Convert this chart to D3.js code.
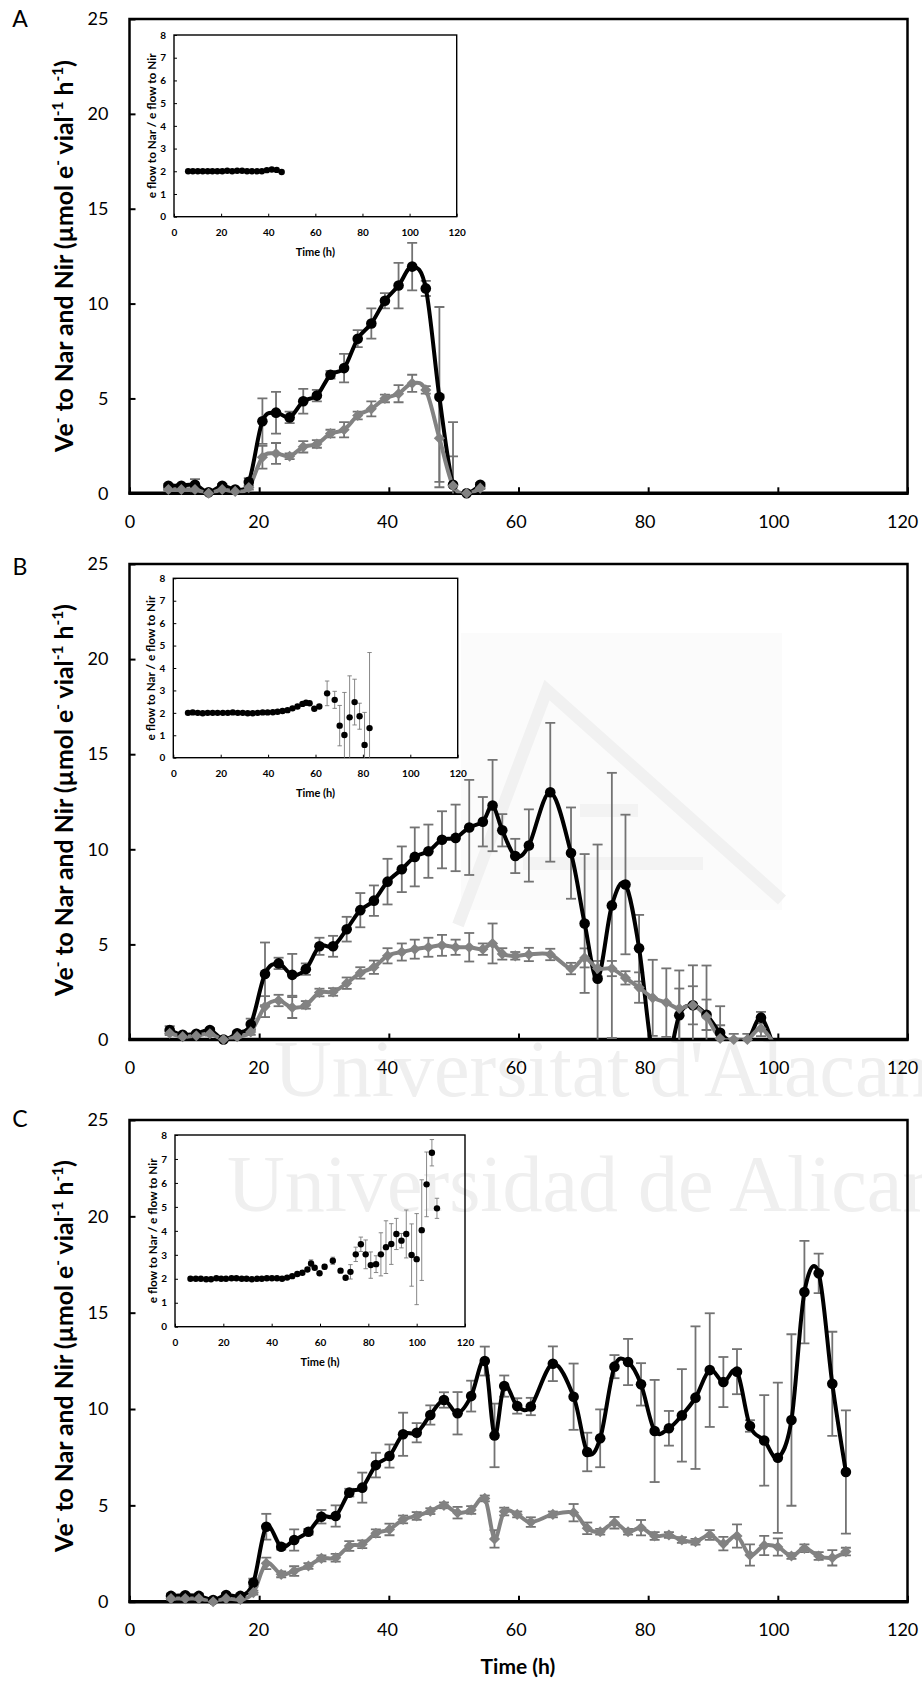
<!DOCTYPE html>
<html>
<head>
<meta charset="utf-8">
<script src="https://cdn.jsdelivr.net/npm/d3@7/dist/d3.min.js"></script>
<style>
  body { margin: 0; background: #fff; }
  svg { display: block; }
</style>
</head>
<body>
<svg id="chart" width="922" height="1682"></svg>
<script>
// ---------------- DATA ----------------
const xTicks = [0, 20, 40, 60, 80, 100, 120];
const yTicks = [0, 5, 10, 15, 20, 25];
const insetXTicks = [0, 20, 40, 60, 80, 100, 120];
const insetYTicks = [0, 1, 2, 3, 4, 5, 6, 7, 8];
const panelLetters = ["A", "B", "C"];
const yTitleParts = ["Ve", "-", " to Nar and Nir (µmol e", "-", " vial", "-1", " h", "-1", ")"];
const xTitle = "Time (h)";
const insetYTitle = "e flow to Nar / e flow to Nir";
const watermarkTexts = ["Universitat d'Alacant", "Universidad de Alicante"];

// Panel A
const timeA = [6.0, 8.0, 10.1, 12.2, 14.3, 16.3, 18.4, 20.5, 22.6, 24.7, 26.8, 28.9, 31.0, 33.1, 35.2, 37.3, 39.4, 41.5, 43.6, 45.7, 47.8, 49.9, 52.0, 54.1];
const narA = [0.4, 0.4, 0.45, 0.05, 0.4, 0.2, 0.6, 3.8, 4.25, 4.0, 4.85, 5.15, 6.25, 6.6, 8.15, 8.95, 10.15, 10.95, 11.95, 10.8, 5.07, 0.45, 0.0, 0.45];
const narAErr = [0.1, 0.1, 0.3, 0.05, 0.1, 0.1, 0.2, 1.2, 1.1, 0.3, 0.65, 0.3, 0.2, 0.75, 0.45, 0.8, 0.4, 1.2, 1.25, 0.4, 4.75, 3.3, 0, 0.1];
const nirA = [0.2, 0.2, 0.2, 0.0, 0.2, 0.1, 0.3, 1.9, 2.1, 1.95, 2.45, 2.6, 3.15, 3.35, 4.1, 4.45, 5.0, 5.25, 5.8, 5.45, 2.9, 0.4, 0.0, 0.27];
const nirAErr = [0.05, 0.05, 0.1, 0, 0.05, 0.05, 0.1, 0.6, 0.55, 0.15, 0.3, 0.2, 0.2, 0.4, 0.2, 0.4, 0.2, 0.45, 0.45, 0.2, 2.3, 1.55, 0, 0.05];
const ratioTimeA = [6.0, 8.0, 10.1, 12.2, 14.3, 16.3, 18.4, 20.5, 22.6, 24.7, 26.8, 28.9, 31.0, 33.1, 35.2, 37.3, 39.4, 41.5, 43.6, 45.7];
const ratioA = [2.0, 2.0, 2.0, 2.0, 2.0, 2.0, 2.0, 2.0, 2.02, 2.0, 2.02, 2.02, 2.0, 2.0, 2.0, 2.0, 2.05, 2.08, 2.06, 1.97];
const ratioAErr = [0, 0, 0, 0, 0, 0, 0, 0, 0, 0, 0, 0, 0, 0, 0, 0, 0, 0, 0, 0];

// Panel B
const timeB = [6.2, 8.2, 10.3, 12.4, 14.5, 16.6, 18.7, 20.9, 23.0, 25.1, 27.2, 29.3, 31.4, 33.5, 35.6, 37.7, 39.8, 42.0, 44.0, 46.1, 48.2, 50.3, 52.4, 54.5, 56.0, 57.5, 59.5, 61.6, 64.9, 68.1, 70.2, 72.2, 74.4, 76.5, 78.6, 80.7, 82.8, 84.8, 86.9, 89.0, 91.1, 93.2, 95.3, 97.4, 99.5];
const narB = [0.5, 0.25, 0.3, 0.5, 0.0, 0.33, 0.8, 3.45, 4.0, 3.4, 3.7, 4.9, 4.9, 5.8, 6.8, 7.3, 8.3, 8.95, 9.6, 9.9, 10.5, 10.6, 11.15, 11.45, 12.3, 11.0, 9.65, 10.2, 13.0, 9.8, 6.1, 3.2, 7.05, 8.15, 4.8, -0.8, -1.5, 1.28, 1.8, 1.3, 0.35, -0.2, -0.1, 1.15, -0.6];
const narBErr = [0.2, 0.1, 0.1, 0.1, 0.05, 0.1, 0.3, 1.65, 0.3, 1.1, 0.3, 0.45, 0.55, 0.65, 0.9, 0.8, 1.2, 1.2, 1.55, 1.4, 1.5, 1.75, 2.5, 1.3, 2.4, 0.85, 0.9, 1.9, 3.65, 2.4, 3.65, 7.05, 6.97, 3.67, 1.75, 0, 0, 1.4, 1.0, 0.8, 0.4, 0, 0, 0.3, 0];
const nirB = [0.33, 0.15, 0.2, 0.3, 0.0, 0.15, 0.4, 1.73, 2.05, 1.68, 1.82, 2.47, 2.5, 2.96, 3.5, 3.8, 4.4, 4.6, 4.75, 4.85, 4.95, 4.85, 4.85, 4.75, 5.05, 4.5, 4.4, 4.47, 4.47, 3.73, 4.29, 3.73, 3.73, 3.24, 2.73, 2.19, 1.94, 1.63, 1.8, 1.19, 0.05, 0.0, 0.0, 0.58, -0.3];
const nirBErr = [0.1, 0.05, 0.05, 0.1, 0.05, 0.05, 0.15, 0.55, 0.3, 0.55, 0.2, 0.2, 0.2, 0.3, 0.3, 0.35, 0.4, 0.45, 0.5, 0.5, 0.55, 0.4, 0.75, 0.3, 1.05, 0.3, 0.2, 0.35, 0.3, 0.3, 0.5, 0.4, 0.4, 0.35, 0.8, 2.0, 1.8, 2.0, 2.1, 2.7, 1.7, 0.3, 0.3, 0.4, 0];
const ratioTimeB = [6.2, 8.2, 10.3, 12.4, 14.5, 16.6, 18.7, 20.9, 23.0, 25.1, 27.2, 29.3, 31.4, 33.5, 35.6, 37.7, 39.8, 42.0, 44.0, 46.1, 48.2, 50.3, 52.4, 54.5, 56.0, 57.5, 59.5, 61.6, 64.9, 68.1, 70.2, 72.2, 74.4, 76.5, 78.6, 80.7, 82.8];
const ratioB = [2.0, 2.02, 2.0, 1.98, 2.0, 2.0, 2.0, 2.0, 2.0, 2.02, 2.0, 2.0, 1.98, 1.98, 2.0, 2.02, 2.02, 2.03, 2.05, 2.08, 2.12, 2.2, 2.28, 2.4, 2.45, 2.43, 2.18, 2.28, 2.87, 2.58, 1.43, 1.01, 1.8, 2.48, 1.85, 0.57, 1.32];
const ratioBErr = [0, 0, 0, 0, 0, 0, 0, 0, 0, 0, 0, 0, 0, 0, 0, 0, 0, 0, 0, 0, 0, 0, 0, 0, 0, 0, 0, 0, 0.55, 0.38, 0.9, 1.9, 1.85, 1.02, 0.58, 1.45, 3.37];

// Panel C
const timeC = [6.4, 8.6, 10.7, 12.9, 14.9, 17.1, 19.1, 21.1, 23.4, 25.4, 27.6, 29.6, 31.8, 33.9, 35.9, 38.0, 40.1, 42.2, 44.3, 46.4, 48.5, 50.6, 52.7, 54.8, 56.3, 57.8, 59.8, 61.9, 65.3, 68.5, 70.6, 72.6, 74.8, 76.9, 78.9, 81.0, 83.2, 85.2, 87.3, 89.5, 91.6, 93.7, 95.7, 97.9, 100.0, 102.1, 104.1, 106.3, 108.4, 110.5];
const narC = [0.3, 0.33, 0.3, 0.09, 0.35, 0.3, 0.99, 3.89, 2.85, 3.2, 3.63, 4.41, 4.45, 5.66, 5.92, 7.09, 7.56, 8.69, 8.77, 9.69, 10.47, 9.78, 10.67, 12.49, 8.63, 11.19, 10.16, 10.13, 12.35, 10.64, 7.77, 8.48, 12.2, 12.44, 11.28, 8.86, 9.0, 9.67, 10.59, 12.02, 11.4, 11.94, 9.12, 8.37, 7.47, 9.43, 16.07, 17.04, 11.31, 6.73];
const narCErr = [0.1, 0.1, 0.1, 0.05, 0.1, 0.1, 0.2, 0.67, 0.15, 0.55, 0.15, 0.35, 0.55, 0.2, 0.78, 0.64, 0.6, 1.12, 0.5, 0.5, 0.4, 1.1, 0.8, 0.75, 1.65, 0.55, 0.4, 0.45, 0.9, 1.72, 1.0, 1.5, 0.6, 1.2, 1.1, 2.65, 0.9, 2.4, 3.7, 2.95, 1.3, 1.17, 0.3, 2.35, 3.9, 4.45, 2.66, 1.03, 2.7, 3.2];
const nirC = [0.16, 0.16, 0.16, 0.0, 0.16, 0.12, 0.47, 1.99, 1.42, 1.59, 1.85, 2.25, 2.28, 2.89, 2.98, 3.55, 3.75, 4.27, 4.45, 4.7, 5.0, 4.62, 4.76, 5.36, 3.26, 4.68, 4.53, 4.13, 4.53, 4.62, 3.81, 3.63, 4.1, 3.63, 3.84, 3.41, 3.46, 3.2, 3.11, 3.46, 3.01, 3.41, 2.42, 2.92, 2.84, 2.37, 2.77, 2.37, 2.28, 2.6];
const nirCErr = [0.05, 0.05, 0.05, 0.05, 0.05, 0.05, 0.1, 0.3, 0.15, 0.25, 0.15, 0.15, 0.2, 0.25, 0.2, 0.2, 0.3, 0.2, 0.2, 0.15, 0.15, 0.3, 0.2, 0.15, 0.45, 0.2, 0.15, 0.25, 0.15, 0.45, 0.3, 0.15, 0.3, 0.15, 0.4, 0.2, 0.15, 0.15, 0.15, 0.25, 0.35, 0.6, 0.55, 0.5, 0.45, 0.15, 0.2, 0.2, 0.4, 0.2];
const ratioTimeC = [6.4, 8.6, 10.7, 12.9, 14.9, 17.1, 19.1, 21.1, 23.4, 25.4, 27.6, 29.6, 31.8, 33.9, 35.9, 38.0, 40.1, 42.2, 44.3, 46.4, 48.5, 50.6, 52.7, 54.8, 56.3, 57.8, 59.8, 61.9, 65.3, 68.5, 70.6, 72.6, 74.8, 76.9, 78.9, 81.0, 83.2, 85.2, 87.3, 89.5, 91.6, 93.7, 95.7, 97.9, 100.0, 102.1, 104.1, 106.3, 108.4];
const ratioC = [2.0, 2.0, 2.0, 1.98, 1.98, 2.02, 2.0, 2.0, 2.02, 2.02, 2.0, 2.0, 1.98, 2.0, 2.0, 2.02, 2.02, 2.02, 2.0, 2.05, 2.11, 2.2, 2.25, 2.39, 2.64, 2.46, 2.23, 2.5, 2.75, 2.34, 2.04, 2.29, 3.02, 3.44, 3.02, 2.57, 2.61, 3.02, 3.32, 3.45, 3.87, 3.59, 3.87, 2.99, 2.82, 4.03, 5.94, 7.26, 4.94];
const ratioCErr = [0, 0, 0, 0, 0, 0, 0, 0, 0, 0, 0, 0, 0, 0, 0, 0, 0, 0, 0, 0, 0, 0, 0, 0.05, 0.15, 0, 0, 0.1, 0.15, 0, 0, 0.3, 0.3, 0.3, 0.6, 0.55, 0.35, 0.9, 1.1, 0.85, 0.65, 0.3, 1.0, 1.3, 1.9, 2.1, 1.35, 0.55, 0.42];

// ---------------- LAYOUT ----------------
const X0 = 129.5, X1 = 907.5;
const layout = [
  { top: 19, bot: 493.3, titleY: 256, letterY: 19, inset: { l: 174, r: 456.7, t: 35, b: 216.7 } },
  { top: 564, bot: 1039.5, titleY: 800, letterY: 567, inset: { l: 173.3, r: 457.7, t: 578.3, b: 757.7 } },
  { top: 1120, bot: 1601.7, titleY: 1356, letterY: 1119, inset: { l: 175, r: 465, t: 1135, b: 1326.7 } }
];
const panels = [
  { t: timeA, nar: narA, narE: narAErr, nir: nirA, nirE: nirAErr, rt: ratioTimeA, r: ratioA, rE: ratioAErr },
  { t: timeB, nar: narB, narE: narBErr, nir: nirB, nirE: nirBErr, rt: ratioTimeB, r: ratioB, rE: ratioBErr },
  { t: timeC, nar: narC, narE: narCErr, nir: nirC, nirE: nirCErr, rt: ratioTimeC, r: ratioC, rE: ratioCErr }
];

const BLACK = "#000000", GRAY = "#828282", ERR = "#737373";
const FONT = "Lato, 'Open Sans', sans-serif";

const svg = d3.select("#chart");
const defs = svg.append("defs");

// ---------------- WATERMARK (faint, behind) ----------------
const wm = svg.append("g").attr("class", "watermark");
wm.append("rect").attr("x", 461).attr("y", 633).attr("width", 321).attr("height", 277).attr("fill", "#fbfbfb");
wm.append("polyline").attr("points", "458,925 547,690 782,900")
  .attr("fill", "none").attr("stroke", "#f1f1f1").attr("stroke-width", 12).attr("stroke-linejoin", "miter");
wm.append("rect").attr("x", 580).attr("y", 804).attr("width", 58).attr("height", 13).attr("fill", "#f3f3f3");
wm.append("rect").attr("x", 523).attr("y", 857).attr("width", 180).attr("height", 13).attr("fill", "#f3f3f3");
wm.append("text").attr("x", 274).attr("y", 1096).text(watermarkTexts[0])
  .attr("font-family", "'Liberation Serif', 'DejaVu Serif', serif").attr("font-size", 80).attr("fill", "#efefef");
wm.append("text").attr("x", 227).attr("y", 1211).text(watermarkTexts[1])
  .attr("font-family", "'Liberation Serif', 'DejaVu Serif', serif").attr("font-size", 80).attr("fill", "#efefef");

const x = d3.scaleLinear().domain([0, 120]).range([X0, X1]);
const line = (xs, ys) => d3.line().x(d => xs(d.t)).y(d => ys(d.v)).curve(d3.curveCatmullRom.alpha(0));

function errBars(g, data, xs, ys, color, width, cap) {
  const eb = g.append("g").attr("stroke", color).attr("stroke-width", width).attr("fill", "none");
  data.filter(d => d.e > 0 && d.v >= 0).forEach(d => {
    const cx = xs(d.t), y1 = ys(d.v + d.e), y2 = ys(d.v - d.e);
    eb.append("line").attr("x1", cx).attr("x2", cx).attr("y1", y1).attr("y2", y2);
    eb.append("line").attr("x1", cx - cap).attr("x2", cx + cap).attr("y1", y1).attr("y2", y1);
    eb.append("line").attr("x1", cx - cap).attr("x2", cx + cap).attr("y1", y2).attr("y2", y2);
  });
}

function drawYTitle(cx, cy, targetLen) {
  const build = (fs) => {
    const t = svg.append("text")
      .attr("transform", `translate(${cx},${cy}) rotate(-90)`)
      .attr("text-anchor", "middle").attr("dy", "0.35em")
      .attr("font-family", FONT).attr("font-weight", "bold").attr("font-size", fs).attr("fill", "#000");
    yTitleParts.forEach((p, i) => {
      const isSup = (i === 1 || i === 3 || i === 5 || i === 7);
      const ts = t.append("tspan").text(p);
      if (isSup) ts.attr("font-size", fs * 0.62).attr("dy", -fs * 0.38);
      else if (i > 0) ts.attr("dy", fs * 0.38);
    });
    return t;
  };
  let t = build(20);
  const len = t.node().getComputedTextLength();
  t.remove();
  build(20 * targetLen / len);
}

panels.forEach((p, i) => {
  const L = layout[i];
  const y = d3.scaleLinear().domain([0, 25]).range([L.bot, L.top]);
  const g = svg.append("g");

  const clipId = "clip" + i;
  defs.append("clipPath").attr("id", clipId).append("rect")
    .attr("x", X0).attr("y", L.top).attr("width", X1 - X0).attr("height", L.bot - L.top);

  // axes
  const ya = g.append("g").attr("transform", `translate(${X0},0)`)
    .call(d3.axisLeft(y).tickValues(yTicks).tickSize(-6).tickPadding(21));
  const xa = g.append("g").attr("transform", `translate(0,${L.bot})`)
    .call(d3.axisBottom(x).tickValues(xTicks).tickSize(-6).tickPadding(21.5));
  [ya, xa].forEach(a => {
    a.select(".domain").remove();
    a.selectAll(".tick line").attr("stroke", "#000").attr("stroke-width", 2);
    a.selectAll(".tick text").attr("font-family", FONT).attr("font-size", 18).attr("fill", "#000");
  });
  xa.selectAll(".tick text").attr("dx", d => -d * 0.045);

  // box and x-axis line
  g.append("rect").attr("x", X0).attr("y", L.top).attr("width", X1 - X0).attr("height", L.bot - L.top)
    .attr("fill", "none").attr("stroke", "#000").attr("stroke-width", 2.5);
  g.append("line").attr("x1", X0 - 1).attr("x2", X1 + 1).attr("y1", L.bot).attr("y2", L.bot)
    .attr("stroke", "#000").attr("stroke-width", 3.5);

  const narData = p.t.map((t, k) => ({ t, v: p.nar[k], e: p.narE[k] }));
  const nirData = p.t.map((t, k) => ({ t, v: p.nir[k], e: p.nirE[k] }));

  const clipped = g.append("g").attr("clip-path", `url(#${clipId})`);
  errBars(clipped, narData, x, y, ERR, 1.8, 5);
  errBars(clipped, nirData, x, y, ERR, 1.8, 5);

  // Nar (black)
  clipped.append("path").datum(narData).attr("d", line(x, y))
    .attr("fill", "none").attr("stroke", BLACK).attr("stroke-width", 4);
  g.append("g").selectAll("circle").data(narData.filter(d => d.v >= 0)).join("circle")
    .attr("cx", d => x(d.t)).attr("cy", d => y(d.v)).attr("r", 5.3).attr("fill", BLACK);

  // Nir (gray)
  clipped.append("path").datum(nirData).attr("d", line(x, y))
    .attr("fill", "none").attr("stroke", GRAY).attr("stroke-width", 4);
  g.append("g").selectAll("path").data(nirData.filter(d => d.v >= 0)).join("path")
    .attr("d", d3.symbol(d3.symbolSquare, 62)())
    .attr("transform", d => `translate(${x(d.t)},${y(d.v)}) rotate(45)`)
    .attr("fill", GRAY);

  // panel letter
  svg.append("text").attr("x", 20).attr("y", L.letterY).attr("dy", "0.35em").attr("text-anchor", "middle")
    .attr("font-family", FONT).attr("font-size", 23).attr("fill", "#000").text(panelLetters[i]);

  // y title
  drawYTitle(64, L.titleY, 392);

  // ---------- inset ----------
  const I = L.inset;
  const xi = d3.scaleLinear().domain([0, 120]).range([I.l, I.r]);
  const yi = d3.scaleLinear().domain([0, 8]).range([I.b, I.t]);
  const gi = svg.append("g");
  const clipI = "clipI" + i;
  defs.append("clipPath").attr("id", clipI).append("rect")
    .attr("x", I.l).attr("y", I.t).attr("width", I.r - I.l).attr("height", I.b - I.t);

  const yia = gi.append("g").attr("transform", `translate(${I.l},0)`)
    .call(d3.axisLeft(yi).tickValues(insetYTicks).tickSize(-3).tickPadding(8));
  const xia = gi.append("g").attr("transform", `translate(0,${I.b})`)
    .call(d3.axisBottom(xi).tickValues(insetXTicks).tickSize(-3).tickPadding(12));
  [yia, xia].forEach(a => {
    a.select(".domain").remove();
    a.selectAll(".tick line").attr("stroke", "#000").attr("stroke-width", 1);
    a.selectAll(".tick text").attr("font-family", FONT).attr("font-weight", "bold").attr("font-size", 10).attr("fill", "#000");
  });
  gi.append("rect").attr("x", I.l).attr("y", I.t).attr("width", I.r - I.l).attr("height", I.b - I.t)
    .attr("fill", "none").attr("stroke", "#000").attr("stroke-width", 1.4);

  const rData = p.rt.map((t, k) => ({ t, v: p.r[k], e: p.rE[k] }));
  const ci = gi.append("g").attr("clip-path", `url(#${clipI})`);
  errBars(ci, rData, xi, yi, "#7a7a7a", 0.9, 2.2);
  gi.append("g").selectAll("circle").data(rData).join("circle")
    .attr("cx", d => xi(d.t)).attr("cy", d => yi(d.v)).attr("r", 3.2).attr("fill", BLACK);

  gi.append("text").attr("x", (I.l + I.r) / 2).attr("y", I.b + 35).attr("dy", "0.35em").attr("text-anchor", "middle")
    .attr("font-family", FONT).attr("font-weight", "bold").attr("font-size", 11).attr("fill", "#000").text(xTitle);

  // inset y title fitted to target length
  const iyt = gi.append("text")
    .attr("transform", `translate(${I.l - 22},${(I.t + I.b) / 2}) rotate(-90)`)
    .attr("text-anchor", "middle").attr("dy", "0.35em")
    .attr("font-family", FONT).attr("font-weight", "bold").attr("font-size", 10).attr("fill", "#000")
    .text(insetYTitle);
  const il = iyt.node().getComputedTextLength();
  iyt.attr("font-size", 10 * 145 / il);
});

// bottom x title
svg.append("text").attr("x", 518).attr("y", 1667).attr("dy", "0.35em").attr("text-anchor", "middle")
  .attr("font-family", FONT).attr("font-weight", "bold").attr("font-size", 21).attr("fill", "#000").text(xTitle);
</script>
</body>
</html>
